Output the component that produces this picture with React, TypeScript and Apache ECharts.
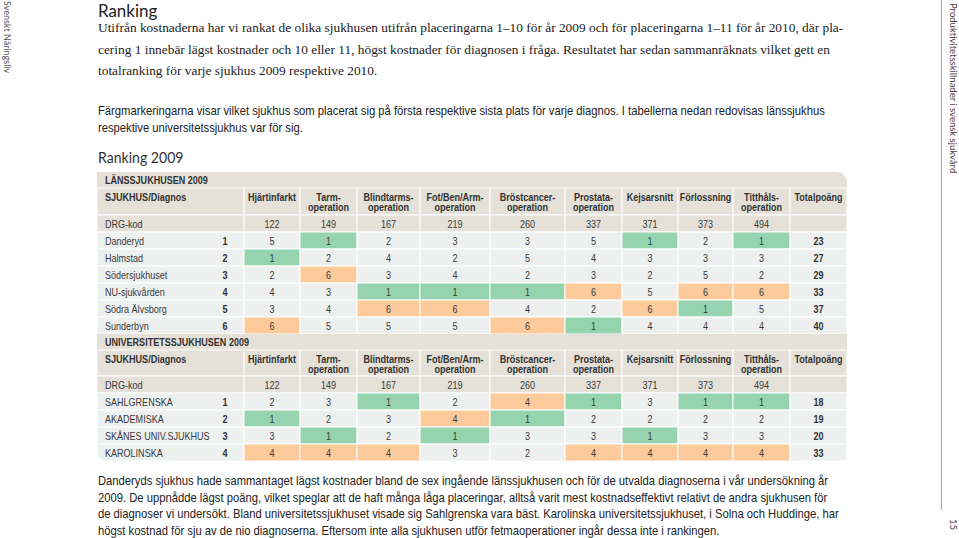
import React, { useEffect, useRef } from "react";
import * as echarts from "echarts";

// ---------- data ----------
const diagnoses = [
  "Hjärtinfarkt",
  "Tarm-\noperation",
  "Blindtarms-\noperation",
  "Fot/Ben/Arm-\noperation",
  "Bröstcancer-\noperation",
  "Prostata-\noperation",
  "Kejsarsnitt",
  "Förlossning",
  "Titthåls-\noperation",
];
const drgCodes = [122, 149, 167, 219, 260, 337, 371, 373, 494];

const lansTitle = "LÄNSSJUKHUSEN 2009";
const lansHospitals = ["Danderyd", "Halmstad", "Södersjukhuset", "NU-sjukvården", "Södra Älvsborg", "Sunderbyn"];
const lansRanks = [
  [5, 1, 2, 3, 3, 5, 1, 2, 1],
  [1, 2, 4, 2, 5, 4, 3, 3, 3],
  [2, 6, 3, 4, 2, 3, 2, 5, 2],
  [4, 3, 1, 1, 1, 6, 5, 6, 6],
  [3, 4, 6, 6, 4, 2, 6, 1, 5],
  [6, 5, 5, 5, 6, 1, 4, 4, 4],
];
const lansTotals = [23, 27, 29, 33, 37, 40];

const uniTitle = "UNIVERSITETSSJUKHUSEN 2009";
const uniHospitals = ["SAHLGRENSKA", "AKADEMISKA", "SKÅNES UNIV.SJUKHUS", "KAROLINSKA"];
const uniRanks = [
  [2, 3, 1, 2, 4, 1, 3, 1, 1],
  [1, 2, 3, 4, 1, 2, 2, 2, 2],
  [3, 1, 2, 1, 3, 3, 1, 3, 3],
  [4, 4, 4, 3, 2, 4, 4, 4, 4],
];
const uniTotals = [18, 19, 20, 33];

const headerLabel = "SJUKHUS/Diagnos";
const drgLabel = "DRG-kod";
const totalLabel = "Totalpoäng";

// ---------- layout (not data) ----------
const COL_EDGES = [0, 147, 203, 260, 323, 393, 468, 525, 581, 636, 693, 750];
const ROW_EDGES = [0, 16, 43, 60, 77, 94, 111, 128, 145, 162, 178, 204, 221, 238, 255, 272, 289];
const RANK_X = 128;
const C_BEIGE = "#e5e1d8";
const C_GRAY = "#eef0f0";
const C_GREEN = "#95d4af";
const C_ORANGE = "#fdca9b";
const C_TEXT = "#3a3a3a";
const TFONT = '"Liberation Sans", Arial, sans-serif';
const TSIZE = 11.3;
const TSCALE = 0.8;

type Cell = {
  col: number;
  row: number;
  span: number;
  text: string;
  fill: string;
  align: "left" | "center";
  valign: "top" | "middle";
  bold: boolean;
  rank?: string;
  stroke: boolean;
  r?: number[];
};

function buildCells(): Cell[] {
  const cells: Cell[] = [];
  const block = (
    startRow: number,
    title: string,
    names: string[],
    ranks: number[][],
    totals: number[],
    first: boolean
  ) => {
    cells.push({ col: 0, row: startRow, span: 11, text: title, fill: C_BEIGE, align: "left", valign: "middle", bold: true, stroke: false, r: first ? [0, 10, 0, 0] : undefined });
    cells.push({ col: 0, row: startRow + 1, span: 1, text: headerLabel, fill: C_BEIGE, align: "left", valign: "top", bold: true, stroke: true });
    diagnoses.forEach((d, i) =>
      cells.push({ col: i + 1, row: startRow + 1, span: 1, text: d, fill: C_BEIGE, align: "center", valign: "top", bold: true, stroke: true })
    );
    cells.push({ col: 10, row: startRow + 1, span: 1, text: totalLabel, fill: C_BEIGE, align: "center", valign: "top", bold: true, stroke: true });
    cells.push({ col: 0, row: startRow + 2, span: 1, text: drgLabel, fill: C_BEIGE, align: "left", valign: "middle", bold: false, stroke: true });
    drgCodes.forEach((c, i) =>
      cells.push({ col: i + 1, row: startRow + 2, span: 1, text: String(c), fill: C_BEIGE, align: "center", valign: "middle", bold: false, stroke: true })
    );
    cells.push({ col: 10, row: startRow + 2, span: 1, text: "", fill: C_BEIGE, align: "center", valign: "middle", bold: false, stroke: true });
    const maxRank = names.length;
    names.forEach((n, h) => {
      const row = startRow + 3 + h;
      const last = !first && h === names.length - 1;
      cells.push({ col: 0, row, span: 1, text: n, rank: String(h + 1), fill: C_GRAY, align: "left", valign: "middle", bold: false, stroke: true, r: last ? [0, 0, 0, 9] : undefined });
      ranks[h].forEach((v, i) => {
        const fill = v === 1 ? C_GREEN : v === maxRank ? C_ORANGE : C_GRAY;
        cells.push({ col: i + 1, row, span: 1, text: String(v), fill, align: "center", valign: "middle", bold: false, stroke: true });
      });
      cells.push({ col: 10, row, span: 1, text: String(totals[h]), fill: C_GRAY, align: "center", valign: "middle", bold: true, stroke: true });
    });
  };
  block(0, lansTitle, lansHospitals, lansRanks, lansTotals, true);
  block(9, uniTitle, uniHospitals, uniRanks, uniTotals, false);
  return cells;
}

const titleText = "Ranking";
const para1 = [
  "Utifrån kostnaderna har vi rankat de olika sjukhusen utifrån placeringarna 1–10 för år 2009 och för placeringarna 1–11 för år 2010, där pla-",
  "cering 1 innebär lägst kostnader och 10 eller 11, högst kostnader för diagnosen i fråga. Resultatet har sedan sammanräknats vilket gett en",
  "totalranking för varje sjukhus 2009 respektive 2010.",
];
const para2 = [
  "Färgmarkeringarna visar vilket sjukhus som placerat sig på första respektive sista plats för varje diagnos. I tabellerna nedan redovisas länssjukhus",
  "respektive universitetssjukhus var för sig.",
];
const subTitle = "Ranking 2009";
const para3 = [
  "Danderyds sjukhus hade sammantaget lägst kostnader bland de sex ingående länssjukhusen och för de utvalda diagnoserna i vår undersökning år",
  "2009. De uppnådde lägst poäng, vilket speglar att de haft många låga placeringar, alltså varit mest kostnadseffektivt relativt de andra sjukhusen för",
  "de diagnoser vi undersökt. Bland universitetssjukhuset visade sig Sahlgrenska vara bäst. Karolinska universitetssjukhuset, i Solna och Huddinge, har",
  "högst kostnad för sju av de nio diagnoserna. Eftersom inte alla sjukhusen utför fetmaoperationer ingår dessa inte i rankingen.",
];
const leftSide = "Svenskt Näringsliv";
const rightSide = "Produktivitetsskillnader i svensk sjukvård";
const pageNo = "15";

export default function App() {
  const ref = useRef<HTMLDivElement>(null);
  useEffect(() => {
    document.body.style.margin = "0";
    if (!ref.current) return;
    const chart = echarts.init(ref.current, undefined, { renderer: "svg" });
    const cells = buildCells();

    const renderItem = (params: any, api: any) => {
      const c = cells[params.dataIndex];
      const col = api.value(0);
      const row = api.value(1);
      const p0 = api.coord([COL_EDGES[col], ROW_EDGES[row]]);
      const p1 = api.coord([COL_EDGES[col + c.span], ROW_EDGES[row + 1]]);
      const w = p1[0] - p0[0];
      const h = p1[1] - p0[1];
      const children: any[] = [
        {
          type: "rect",
          shape: { x: p0[0], y: p0[1], width: w, height: h, r: c.r || 0 },
          style: { fill: c.fill, stroke: c.stroke ? "#ffffff" : null, lineWidth: 1 },
        },
      ];
      if (c.text) {
        const tx = c.align === "left" ? p0[0] + 8 : p0[0] + w / 2;
        const ty = c.valign === "top" ? p0[1] + 3.5 : p0[1] + h / 2 + 0.5;
        children.push({
          type: "text",
          x: tx,
          y: ty,
          scaleX: TSCALE,
          style: {
            text: c.text,
            fill: c.bold ? "#333" : C_TEXT,
            fontFamily: TFONT,
            fontSize: TSIZE,
            fontWeight: c.bold ? "bold" : "normal",
            lineHeight: 10.5,
            textAlign: c.align,
            textVerticalAlign: c.valign,
          },
        });
      }
      if (c.rank) {
        const rp = api.coord([RANK_X, ROW_EDGES[row]]);
        children.push({
          type: "text",
          x: rp[0],
          y: p0[1] + h / 2 + 0.5,
          scaleX: TSCALE,
          style: {
            text: c.rank,
            fill: "#333",
            fontFamily: TFONT,
            fontSize: TSIZE,
            fontWeight: "bold",
            textAlign: "center",
            textVerticalAlign: "middle",
          },
        });
      }
      return { type: "group", children };
    };

    const SANS = TFONT;
    const SERIF = '"Liberation Serif", "DejaVu Serif", serif';
    const HUMAN = 'Lato, "Open Sans", sans-serif';

    const para3Lines = para3.map((line, i) => ({
      type: "text",
      x: 98,
      y: 481 + i * 16.6,
      scaleX: 0.9,
      style: { text: line, fontFamily: SANS, fontSize: 12.5, fill: "#222", textAlign: "left", textVerticalAlign: "middle" },
    }));

    chart.setOption({
      animation: false,
      backgroundColor: "#ffffff",
      grid: { left: 97, top: 172, width: 750, height: 289 },
      xAxis: { type: "value", min: 0, max: 750, show: false },
      yAxis: { type: "value", min: 0, max: 289, inverse: true, show: false },
      series: [
        {
          type: "custom",
          renderItem,
          clip: false,
          data: cells.map((c) => [c.col, c.row]),
        },
      ],
      graphic: [
        { type: "text", x: 98, y: 10, scaleX: 0.94, style: { text: titleText, fontFamily: HUMAN, fontSize: 18, fill: "#222", textAlign: "left", textVerticalAlign: "middle" } },
        { type: "text", x: 98, y: 17, scaleX: 0.99, style: { text: para1.join("\n"), fontFamily: SERIF, fontSize: 13.5, lineHeight: 21.5, fill: "#222", textAlign: "left", textVerticalAlign: "top" } },
        { type: "text", x: 98, y: 102.5, scaleX: 0.9, style: { text: para2.join("\n"), fontFamily: SANS, fontSize: 12.5, lineHeight: 17, fill: "#222", textAlign: "left", textVerticalAlign: "top" } },
        { type: "text", x: 98, y: 157, scaleX: 0.88, style: { text: subTitle, fontFamily: HUMAN, fontSize: 16, fill: "#333", textAlign: "left", textVerticalAlign: "middle" } },
        ...para3Lines,
        { type: "text", x: 7, y: 1, rotation: -Math.PI / 2, style: { text: leftSide, fontFamily: HUMAN, fontSize: 9, fill: "#555", textAlign: "left", textVerticalAlign: "middle" } },
        { type: "text", x: 953, y: 3, rotation: -Math.PI / 2, style: { text: rightSide, fontFamily: HUMAN, fontSize: 9.5, fill: "#444", textAlign: "left", textVerticalAlign: "middle" } },
        { type: "text", x: 953, y: 519, rotation: -Math.PI / 2, style: { text: pageNo, fontFamily: HUMAN, fontSize: 9.5, fill: "#444", textAlign: "left", textVerticalAlign: "middle" } },
        { type: "line", shape: { x1: 941.5, y1: 0, x2: 941.5, y2: 510 }, style: { stroke: "#aaaaaa", lineWidth: 1 } },
      ],
    });
    return () => chart.dispose();
  }, []);
  return <div ref={ref} style={{ width: 959, height: 538 }} />;
}
